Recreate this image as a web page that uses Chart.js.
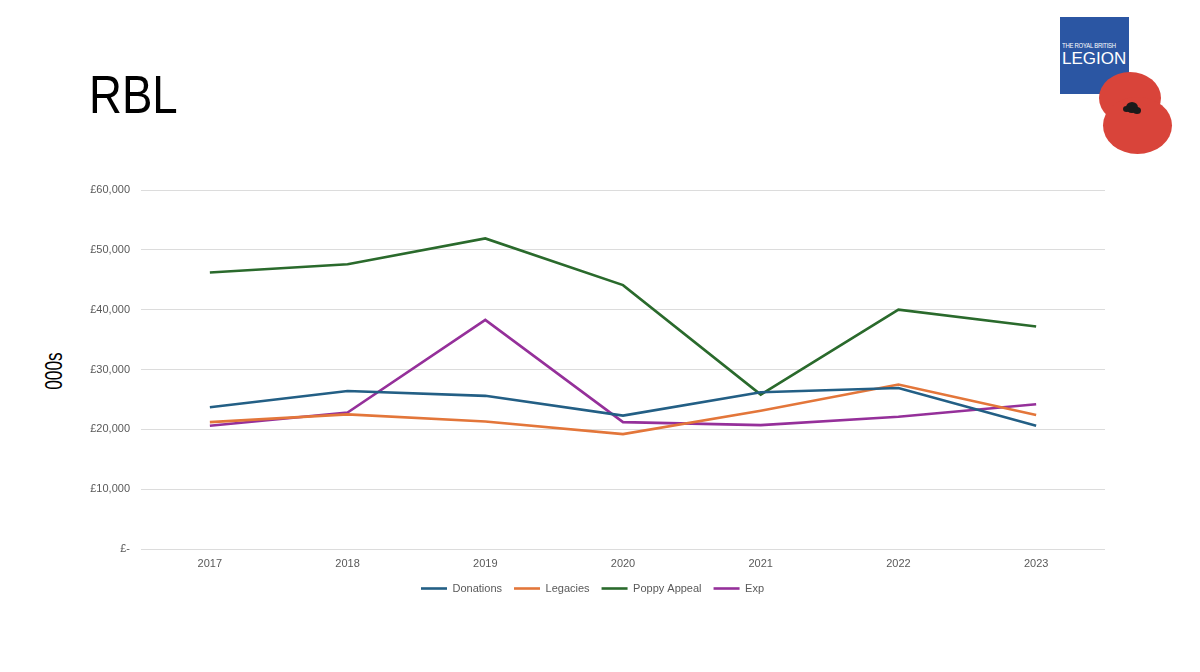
<!DOCTYPE html>
<html>
<head>
<meta charset="utf-8">
<script src="https://cdn.jsdelivr.net/npm/chart.js@4.4.1/dist/chart.umd.min.js"></script>
<style>
  html, body { margin: 0; padding: 0; background: #ffffff; }
  body { width: 1200px; height: 672px; position: relative; overflow: hidden; font-family: "Liberation Sans", Arial, sans-serif; }
  #title { position: absolute; left: 89px; top: 65px; font-size: 53px; color: #000; line-height: 60px; transform: scaleX(0.86); transform-origin: left top; }
  #units { position: absolute; left: 54px; top: 371px; font-size: 24px; line-height: 24px; color: #000; transform: translate(-50%, -50%) rotate(-90deg) scaleX(0.72); white-space: nowrap; }
  #logo { position: absolute; left: 1060px; top: 17px; width: 69px; height: 77px; background: #2b56a3; color: #fff; }
  #logo .small { position: absolute; left: 2px; top: 25px; font-size: 7px; line-height: 7px; letter-spacing: -0.3px; white-space: nowrap; transform: scaleX(0.85); transform-origin: left top; }
  #logo .big { position: absolute; left: 2px; top: 33px; font-size: 17px; line-height: 17px; white-space: nowrap; }
  .petal { position: absolute; background: #d9443a; border-radius: 50%; }
  .seed { position: absolute; background: #1a1a1a; border-radius: 50%; }
  #wrap { position: absolute; left: 80px; top: 170px; width: 1040px; height: 434px; }
</style>
</head>
<body>
<div id="title">RBL</div>
<div id="units">000s</div>
<div id="logo"><div class="small">THE ROYAL BRITISH</div><div class="big">LEGION</div></div>
<div class="petal" style="left:1099px; top:72px; width:62px; height:52px;"></div>
<div class="petal" style="left:1103px; top:97px; width:69px; height:57px;"></div>
<div class="seed" style="left:1126px; top:102px; width:12px; height:11px;"></div>
<div class="seed" style="left:1123px; top:106px; width:7px; height:6px;"></div>
<div class="seed" style="left:1133px; top:107px; width:8px; height:7px;"></div>
<div id="wrap"><canvas id="chart"></canvas></div>
<script>
const years = ['2017', '2018', '2019', '2020', '2021', '2022', '2023'];
const donations = [23700, 26400, 25600, 22300, 26200, 26900, 20600];
const legacies = [21200, 22500, 21300, 19200, 23100, 27500, 22400];
const poppyAppeal = [46200, 47600, 51900, 44100, 25800, 40000, 37200];
const exp = [20600, 22800, 38300, 21200, 20700, 22100, 24200];
const yTicks = [0, 10000, 20000, 30000, 40000, 50000, 60000];

const ctx = document.getElementById('chart').getContext('2d');

const makeSet = (label, data, color) => ({
    label: label,
    data: data,
    borderColor: color,
    backgroundColor: color,
    borderWidth: 2.6,
    pointRadius: 0,
    tension: 0,
    fill: false
});

const myChart = new Chart(ctx, {
    type: 'line',
    data: {
        labels: years,
        datasets: [
            makeSet('Donations', donations, '#235f85'),
            makeSet('Legacies', legacies, '#e3763a'),
            makeSet('Poppy Appeal', poppyAppeal, '#2a6a2c'),
            makeSet('Exp', exp, '#95309a')
        ]
    },
    options: {
        responsive: true,
        maintainAspectRatio: false,
        animation: false,
        layout: {
            padding: { top: 20, right: 15, left: 0, bottom: 0 }
        },
        plugins: {
            title: { display: false },
            tooltip: { enabled: false },
            legend: {
                display: true,
                position: 'bottom',
                labels: {
                    usePointStyle: true,
                    pointStyle: 'line',
                    pointStyleWidth: 26,
                    padding: 12,
                    color: '#595959',
                    font: { size: 11, family: 'Liberation Sans' }
                }
            }
        },
        scales: {
            y: {
                min: 0,
                max: 60000,
                afterFit: (scale) => { scale.width = 61; },
                afterBuildTicks: (scale) => { scale.ticks = yTicks.map(v => ({ value: v })); },
                border: { display: false },
                grid: {
                    color: '#dcdcdc',
                    lineWidth: 1,
                    drawTicks: false
                },
                ticks: {
                    color: '#595959',
                    padding: 11,
                    font: { size: 11, family: 'Liberation Sans' },
                    callback: (value) => value === 0 ? '£-' : '£' + value.toLocaleString('en-GB')
                }
            },
            x: {
                offset: true,
                afterFit: (scale) => { scale.height = 22; },
                border: { display: false },
                grid: { display: false, drawTicks: false },
                ticks: {
                    color: '#595959',
                    padding: 8,
                    font: { size: 11, family: 'Liberation Sans' }
                }
            }
        }
    }
});
</script>
</body>
</html>
